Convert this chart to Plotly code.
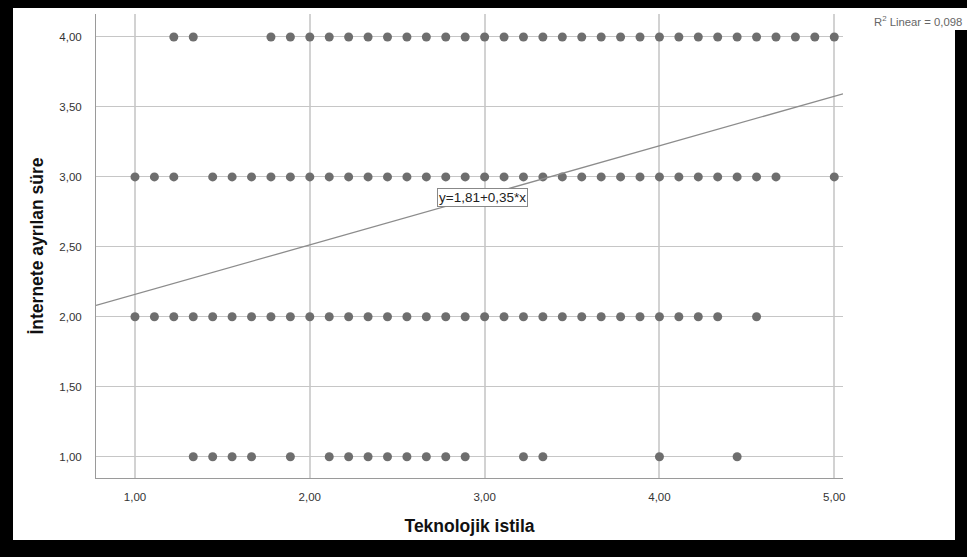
import plotly.graph_objects as go

# Data (x values are multiples of 1/9)
n = 9
row4_x = [11, 12] + list(range(16, 46))          # in ninths
row3_x = [9, 10, 11] + list(range(13, 43)) + [45]
row2_x = list(range(9, 40)) + [41]
row1_x = [12, 13, 14, 15, 17, 19, 20, 21, 22, 23, 24, 25, 26, 29, 30, 36, 40]
y_levels = [4.0, 3.0, 2.0, 1.0]
intercept = 1.806
slope = 0.354
eq_label = "y=1,81+0,35*x"
r2_label = "R<sup>2</sup> Linear = 0,098"
x_title = "Teknolojik istila"
y_title = "İnternete ayrılan süre"
x_ticks = [1, 2, 3, 4, 5]
y_ticks = [1.0, 1.5, 2.0, 2.5, 3.0, 3.5, 4.0]

W, H = 967, 557
L, R, T, B = 96, 843, 14, 478
xr = [0.777, 5.050]
yr = [0.848, 4.164]

xs, ys = [], []
for lvl, row in zip(y_levels, [row4_x, row3_x, row2_x, row1_x]):
    for v in row:
        xs.append(v / n)
        ys.append(lvl)

fig = go.Figure()
fig.add_trace(go.Scatter(
    x=xs, y=ys, mode="markers",
    marker=dict(size=9, color="#6e6e6e", line=dict(width=0)),
    hoverinfo="skip", showlegend=False))

fx = [xr[0], xr[1]]
fig.add_trace(go.Scatter(
    x=fx, y=[intercept + slope * v for v in fx], mode="lines",
    line=dict(color="#8c8c8c", width=1.3), hoverinfo="skip",
    showlegend=False, cliponaxis=True))

def px_x(p):
    return (p - L) / (R - L)

def px_y(p):
    return (B - p) / (B - T)

shapes = []
for (x0, y0, x1, y1) in [(0, 0, W, 8), (0, 0, 13, H), (0, 540, W, H), (955, 30, W, H)]:
    shapes.append(dict(type="rect", xref="paper", yref="paper",
                       x0=px_x(x0), x1=px_x(x1), y0=px_y(y1), y1=px_y(y0),
                       fillcolor="black", line=dict(width=0), layer="above"))

fig.update_layout(
    width=W, height=H,
    margin=dict(l=L, r=W - R, t=T, b=H - B, pad=0),
    paper_bgcolor="white", plot_bgcolor="white",
    separators=",.",
    font=dict(family="Liberation Sans, Arial, sans-serif", color="#222"),
    shapes=shapes,
    xaxis=dict(range=xr, tickvals=x_ticks, tickformat=".2f",
               showgrid=True, gridcolor="#d2d2d2", gridwidth=1.5,
               zeroline=False, showline=True, linecolor="#9a9a9a", linewidth=1,
               ticks="outside", ticklen=8, tickcolor="rgba(0,0,0,0)",
               tickfont=dict(size=11.5, color="#333"),
               title=dict(text="<b>" + x_title + "</b>", font=dict(size=17.5, color="#111"),
                          standoff=17)),
    yaxis=dict(range=yr, tickvals=y_ticks, tickformat=".2f",
               showgrid=True, gridcolor="#c6c6c6", gridwidth=1,
               zeroline=False, showline=True, linecolor="#9a9a9a", linewidth=1,
               ticks="outside", ticklen=11, tickcolor="rgba(0,0,0,0)",
               tickfont=dict(size=11.5, color="#333"),
               title=dict(text="<b>" + y_title + "</b>", font=dict(size=17.5, color="#111"),
                          standoff=11)),
    annotations=[
        dict(x=2.99, y=2.85, xref="x", yref="y", text=eq_label, showarrow=False,
             font=dict(size=13.5, color="#222"), bgcolor="white",
             bordercolor="#888", borderwidth=1, borderpad=1),
        dict(x=px_x(872), y=px_y(21), xref="paper", yref="paper", text=r2_label,
             showarrow=False, xanchor="left", yanchor="middle",
             font=dict(size=11.3, color="#666")),
    ],
)

fig.write_html("out.html", config={"displayModeBar": False},
               post_script="document.body.style.margin='0';document.body.style.padding='0';")
